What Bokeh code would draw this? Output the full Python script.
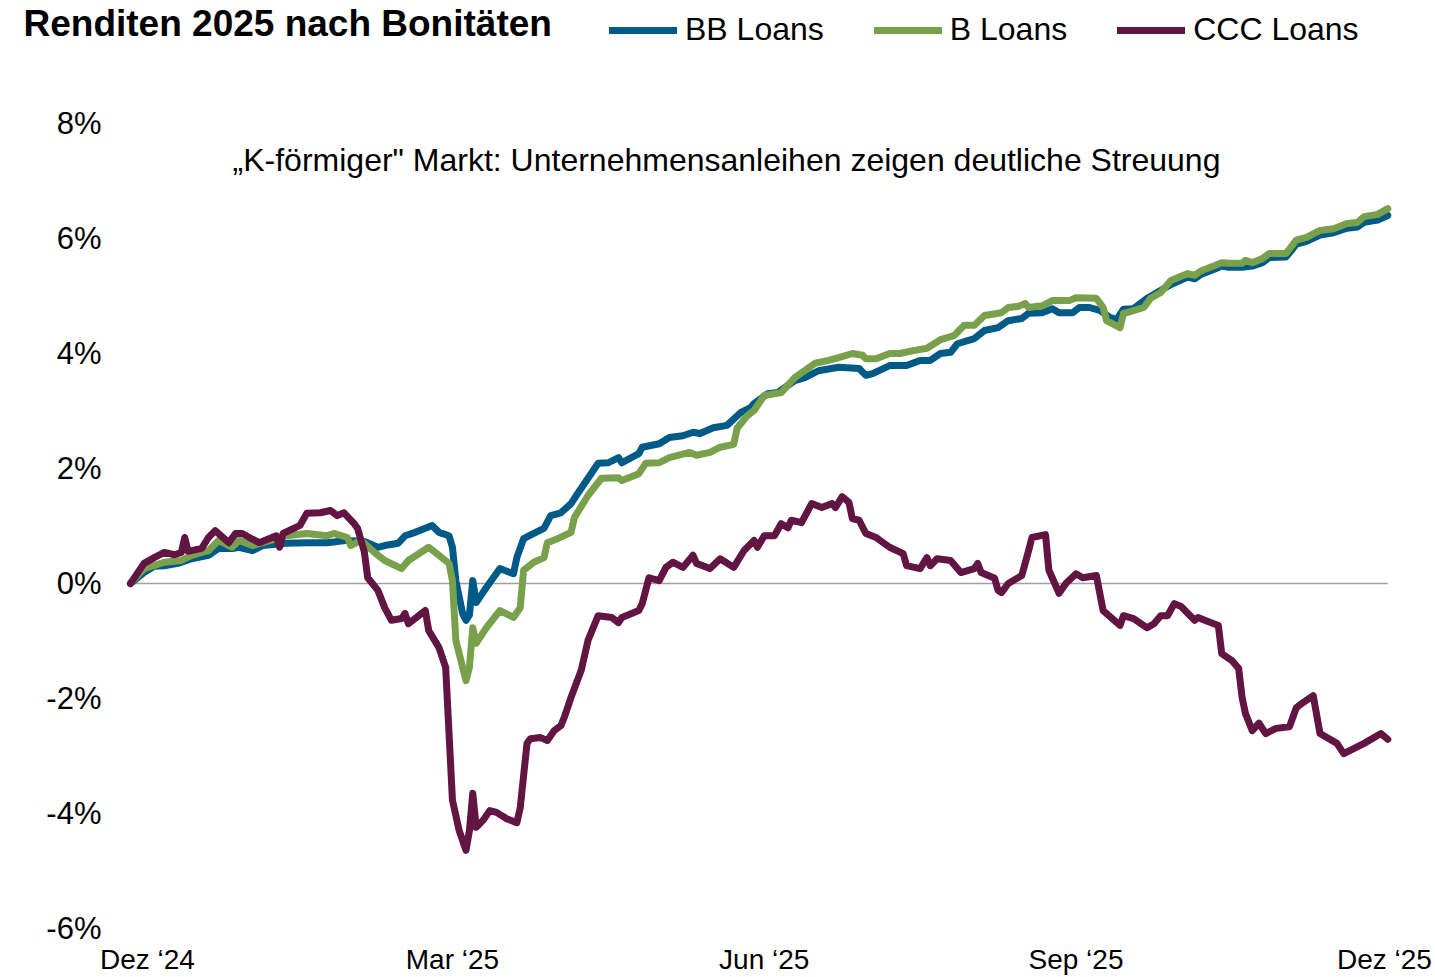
from datetime import date
from bokeh.plotting import figure
from bokeh.layouts import column
from bokeh.models import Range1d, FixedTicker, PrintfTickFormatter, Label, Legend, LegendItem
from bokeh.embed import file_html
from bokeh.resources import INLINE

# ---------------- data ----------------
BASE_DATE = date(2024, 11, 26)          # day 0 of the series
TICK_DATES = [date(2024, 12, 1), date(2025, 3, 1), date(2025, 6, 1), date(2025, 9, 1), date(2025, 12, 1)]
TICK_LABELS = ["Dez \u201824", "Mar \u201825", "Jun \u201825", "Sep \u201825", "Dez \u201825"]
Y_TICKS = [-6, -4, -2, 0, 2, 4, 6, 8]

BB_DAY = [0, 4, 7, 10, 14, 18, 23, 26, 30, 32, 36, 39, 46, 52, 58, 64, 69, 73, 75, 79, 81, 84, 89, 91, 94,
          95, 96, 98, 99, 100, 101, 102, 105, 109, 113, 114, 116, 119, 122, 124, 127, 130, 132, 135, 138,
          141, 144, 145, 150, 151, 156, 159, 163, 166, 168, 172, 176, 180, 183, 184, 188, 191, 196, 199,
          203, 209, 215, 217, 219, 224, 229, 233, 236, 239, 242, 244, 249, 252, 256, 259, 263, 265, 269,
          272, 274, 278, 280, 283, 286, 289, 291, 293, 296, 300, 307, 312, 314, 316, 320, 322, 324, 328,
          331, 334, 336, 341, 344, 347, 351, 355, 359, 362, 364, 368, 371]
BB_VAL = [0.00, 0.19, 0.30, 0.31, 0.35, 0.43, 0.49, 0.61, 0.61, 0.63, 0.57, 0.66, 0.70, 0.71, 0.71, 0.75,
          0.73, 0.63, 0.66, 0.70, 0.83, 0.89, 1.01, 0.89, 0.83, 0.63, 0.05, -0.52, -0.64, -0.55, 0.05,
          -0.33, -0.07, 0.26, 0.17, 0.45, 0.78, 0.87, 0.96, 1.18, 1.23, 1.39, 1.57, 1.83, 2.09, 2.10, 2.19,
          2.10, 2.26, 2.37, 2.43, 2.54, 2.57, 2.63, 2.61, 2.71, 2.75, 2.97, 3.06, 3.13, 3.30, 3.32, 3.53,
          3.58, 3.70, 3.76, 3.74, 3.62, 3.65, 3.79, 3.79, 3.88, 3.88, 4.00, 4.02, 4.17, 4.26, 4.40, 4.45,
          4.57, 4.61, 4.70, 4.71, 4.78, 4.71, 4.71, 4.80, 4.80, 4.75, 4.63, 4.59, 4.77, 4.78, 4.96, 5.20,
          5.33, 5.30, 5.38, 5.47, 5.52, 5.50, 5.50, 5.52, 5.58, 5.67, 5.68, 5.90, 5.95, 6.06, 6.10, 6.18,
          6.20, 6.28, 6.32, 6.40]

B_DAY = [0, 4, 10, 15, 18, 23, 26, 30, 32, 36, 39, 46, 52, 58, 60, 64, 65, 68, 72, 75, 80, 82, 88, 91, 94,
         95, 96, 99, 100, 101, 102, 105, 109, 113, 115, 116, 119, 122, 123, 126, 130, 131, 135, 139, 144,
         145, 150, 152, 156, 159, 165, 167, 171, 174, 178, 179, 182, 184, 187, 192, 196, 202, 206, 209,
         213, 216, 217, 220, 224, 227, 231, 235, 239, 243, 246, 249, 252, 257, 259, 262, 264, 265, 269,
         272, 277, 279, 285, 287, 288, 292, 293, 294, 299, 301, 304, 307, 312, 314, 316, 320, 322, 324,
         328, 329, 331, 334, 336, 341, 344, 347, 351, 355, 359, 362, 364, 368, 371]
B_VAL = [0.00, 0.26, 0.37, 0.40, 0.49, 0.57, 0.75, 0.63, 0.75, 0.66, 0.71, 0.83, 0.87, 0.83, 0.87, 0.80,
         0.66, 0.75, 0.54, 0.40, 0.26, 0.40, 0.63, 0.49, 0.35, 0.05, -0.99, -1.69, -1.46, -0.77, -1.04,
         -0.77, -0.47, -0.59, -0.42, 0.23, 0.37, 0.45, 0.71, 0.78, 0.89, 1.15, 1.53, 1.83, 1.84, 1.79,
         1.91, 2.09, 2.10, 2.19, 2.28, 2.23, 2.28, 2.37, 2.42, 2.70, 2.92, 3.01, 3.27, 3.32, 3.58, 3.83,
         3.88, 3.93, 4.00, 3.97, 3.91, 3.91, 4.00, 4.00, 4.05, 4.09, 4.24, 4.31, 4.49, 4.49, 4.66, 4.71,
         4.80, 4.82, 4.87, 4.80, 4.83, 4.92, 4.92, 4.97, 4.96, 4.80, 4.57, 4.45, 4.70, 4.71, 4.80, 4.96,
         5.06, 5.27, 5.39, 5.36, 5.44, 5.53, 5.58, 5.57, 5.57, 5.62, 5.58, 5.65, 5.74, 5.74, 5.97, 6.02,
         6.14, 6.17, 6.26, 6.28, 6.38, 6.42, 6.52]

CCC_DAY = [0, 4, 7, 10, 13, 15, 16, 17, 21, 23, 25, 29, 31, 33, 36, 38, 43, 44, 45, 50, 52, 56, 59, 61, 63,
           66, 67, 69, 70, 73, 75, 77, 80, 81, 82, 85, 87, 88, 91, 93, 95, 97, 99, 100, 101, 102, 104, 106,
           108, 111, 114, 115, 117, 118, 121, 123, 125, 127, 128, 130, 133, 135, 138, 142, 144, 145, 150,
           151, 153, 156, 158, 160, 163, 166, 167, 171, 174, 178, 181, 184, 185, 187, 190, 192, 194, 195,
           198, 201, 204, 207, 208, 210, 212, 213, 215, 217, 220, 224, 228, 229, 233, 235, 236, 238, 242,
           245, 249, 250, 251, 255, 256, 257, 259, 263, 265, 266, 270, 271, 274, 276, 279, 281, 285, 287,
           292, 293, 296, 300, 302, 304, 306, 308, 310, 314, 315, 317, 321, 322, 325, 327, 328, 329, 331,
           333, 335, 338, 342, 344, 346, 349, 351, 356, 358, 364, 369, 371]
CCC_VAL = [0.00, 0.35, 0.45, 0.54, 0.50, 0.54, 0.80, 0.56, 0.61, 0.80, 0.92, 0.71, 0.87, 0.87, 0.77, 0.71,
           0.83, 0.63, 0.87, 1.01, 1.22, 1.23, 1.27, 1.18, 1.23, 1.04, 0.96, 0.55, 0.10, -0.12, -0.42, -0.64,
           -0.61, -0.52, -0.70, -0.56, -0.47, -0.82, -1.11, -1.46, -3.77, -4.30, -4.64, -4.30, -3.65, -4.24,
           -4.12, -3.95, -3.98, -4.09, -4.16, -3.90, -2.78, -2.70, -2.68, -2.73, -2.56, -2.47, -2.33, -1.98,
           -1.51, -0.99, -0.56, -0.59, -0.68, -0.59, -0.47, -0.35, 0.10, 0.05, 0.28, 0.37, 0.28, 0.49, 0.35,
           0.26, 0.43, 0.28, 0.57, 0.75, 0.63, 0.83, 0.83, 1.04, 0.97, 1.10, 1.06, 1.39, 1.32, 1.39, 1.32,
           1.51, 1.41, 1.13, 1.10, 0.87, 0.80, 0.63, 0.52, 0.31, 0.26, 0.45, 0.31, 0.43, 0.40, 0.19, 0.26,
           0.35, 0.19, 0.09, -0.12, -0.16, 0.00, 0.14, 0.57, 0.80, 0.85, 0.23, -0.17, 0.00, 0.17, 0.10, 0.14,
           -0.47, -0.73, -0.56, -0.61, -0.77, -0.70, -0.56, -0.56, -0.35, -0.40, -0.64, -0.59, -0.64, -0.73,
           -1.22, -1.34, -1.48, -1.98, -2.26, -2.56, -2.43, -2.61, -2.52, -2.49, -2.16, -2.07, -1.95, -2.61,
           -2.78, -2.96, -2.78, -2.61, -2.71]

SERIES_NAMES = ["BB Loans", "B Loans", "CCC Loans"]
TITLE = "Renditen 2025 nach Bonit\u00e4ten"
SUBTITLE = "\u201eK-f\u00f6rmiger\" Markt: Unternehmensanleihen zeigen deutliche Streuung"

# ---------------- styles ----------------
FONT = "Liberation Sans"
COLORS = ["#005a88", "#79a04a", "#621442"]
LW = 7
W = 1435
TOP_H = 70
MAIN_H = 977 - TOP_H

tick_days = [(d - BASE_DATE).days for d in TICK_DATES]

# ---------- header (title + legend) ----------
top = figure(width=W, height=TOP_H, output_backend="svg", toolbar_location=None,
             x_range=Range1d(0, W), y_range=Range1d(0, TOP_H),
             x_axis_location=None, y_axis_location=None,
             min_border=0, min_border_left=0, min_border_right=0, min_border_top=0, min_border_bottom=0)
top.frame_align = False
top.outline_line_color = None
top.grid.visible = False

nan = float("nan")
swatches = [top.line([nan], [nan], line_color=c, line_width=LW, line_cap="round") for c in COLORS]
legend = Legend(items=[LegendItem(label=n, renderers=[r]) for n, r in zip(SERIES_NAMES, swatches)],
                orientation="horizontal", location=(609, 22),
                glyph_width=68, glyph_height=34, label_height=34, label_standoff=8,
                spacing=50, padding=0, margin=0,
                border_line_color=None, background_fill_alpha=0,
                label_text_font=FONT, label_text_font_size="32px", label_text_color="black")
top.add_layout(legend)
top.add_layout(Label(x=23, y=47, x_units="screen", y_units="screen", text=TITLE,
                     text_font=FONT, text_font_style="bold",
                     text_font_size="37px", text_color="black",
                     text_baseline="middle", text_align="left"))

# ---------- main chart ----------
p = figure(width=W, height=MAIN_H, output_backend="svg", toolbar_location=None,
           x_range=Range1d(-2.95, 374.75), y_range=Range1d(-6, 8),
           min_border_left=120, min_border_right=35, min_border_top=53, min_border_bottom=49)
p.frame_align = False
p.outline_line_color = None
p.grid.visible = False

xa = p.xaxis[0]
xa.ticker = FixedTicker(ticks=tick_days)
xa.major_label_overrides = {d: lab for d, lab in zip(tick_days, TICK_LABELS)}
xa.axis_line_color = None
xa.major_tick_line_color = None
xa.minor_tick_line_color = None
xa.major_tick_out = 0
xa.major_label_standoff = 15
xa.major_label_text_font = FONT
xa.major_label_text_font_size = "28px"
xa.major_label_text_color = "black"

ya = p.yaxis[0]
ya.ticker = FixedTicker(ticks=Y_TICKS)
ya.formatter = PrintfTickFormatter(format="%d%%")
ya.axis_line_color = None
ya.major_tick_line_color = None
ya.minor_tick_line_color = None
ya.major_tick_out = 0
ya.major_label_standoff = 19
ya.major_label_text_font = FONT
ya.major_label_text_font_size = "31px"
ya.major_label_text_color = "black"

# zero line spanning the data period
p.line([BB_DAY[0], BB_DAY[-1]], [0, 0], line_color="#a0a0a0", line_width=1.5)

for days, vals, c in [(BB_DAY, BB_VAL, COLORS[0]), (B_DAY, B_VAL, COLORS[1]), (CCC_DAY, CCC_VAL, COLORS[2])]:
    p.line(days, vals, line_color=c, line_width=LW, line_join="round", line_cap="round")

p.add_layout(Label(x=606, y=769, x_units="screen", y_units="screen", text=SUBTITLE,
                   text_font=FONT, text_font_size="32px", text_color="black",
                   text_baseline="middle", text_align="center"))

layout = column(top, p, spacing=0)
open("out.html", "w").write(file_html(layout, INLINE))
